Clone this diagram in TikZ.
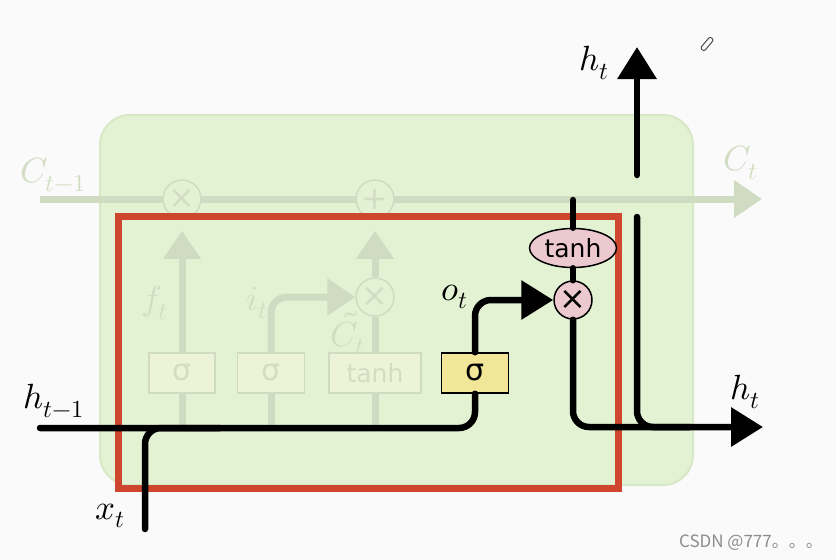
\documentclass[tikz,border=0pt]{standalone}
\usepackage{fontspec}
\usepackage{unicode-math}
\setmathfont{Latin Modern Math}
\newfontfamily\gatefont{DejaVu Sans}
\newfontfamily\cjkfont{Noto Sans CJK SC}
\usepackage{xcolor}
\definecolor{paper}{RGB}{250,250,250}
\definecolor{cellgreen}{RGB}{228,242,212}
\definecolor{celledge}{RGB}{215,232,196}
\definecolor{faded}{RGB}{208,220,194}
\definecolor{fadedfill}{RGB}{237,243,214}
\definecolor{fadedtext}{RGB}{210,221,196}
\definecolor{sigyellow}{RGB}{242,231,152}
\definecolor{oppink}{RGB}{236,200,207}
\definecolor{boxred}{RGB}{207,70,46}
\definecolor{markgray}{RGB}{140,140,140}
\usetikzlibrary{arrows.meta, shapes.geometric}
\tikzset{
  cell/.style={draw=celledge, fill=cellgreen, line width=2pt, rounded corners=30pt},
  gatebox/.style={draw=black, fill=sigyellow, line width=1.5pt,
    minimum width=66pt, minimum height=40pt, inner sep=0pt,
    font=\gatefont\fontsize{30}{30}\selectfont},
  fadebox/.style={draw=faded, fill=fadedfill, line width=1.5pt,
    minimum width=66pt, minimum height=40pt, inner sep=0pt, text=fadedtext,
    font=\gatefont\fontsize{30}{30}\selectfont},
  opcircle/.style={circle, draw=black, fill=oppink, line width=1.5pt,
    minimum size=38pt, inner sep=0pt, font=\gatefont\fontsize{32}{32}\selectfont},
  fadecircle/.style={circle, draw=faded, fill=cellgreen, line width=1.5pt,
    minimum size=38pt, inner sep=0pt, text=fadedtext,
    font=\gatefont\fontsize{32}{32}\selectfont},
  opellipse/.style={ellipse, draw=black, fill=oppink, line width=1.5pt,
    minimum width=87pt, minimum height=39pt, inner sep=0pt,
    font=\gatefont\fontsize{25}{25}\selectfont},
  lbl/.style={inner sep=0pt, font=\fontsize{35}{35}\selectfont},
  fadelbl/.style={lbl, text=fadedtext},
  mainline/.style={line width=6.5pt, line cap=round, rounded corners=16pt},
  mainarrow/.style={mainline, -{Triangle[length=32pt, width=38pt]}},
  fadeline/.style={draw=faded, line width=7pt, rounded corners=16pt},
  fadearrow/.style={fadeline, -{Triangle[length=28pt, width=36pt]}},
  focusbox/.style={draw=boxred, line width=7pt}
}

\begin{document}
\begin{tikzpicture}[x=1pt, y=-1pt]
  \fill[paper] (0,0) rectangle (836,560);
  \useasboundingbox (0,0) rectangle (836,560);

  % cell body
  \draw[cell] (100,115) rectangle (693,485);

  \coordinate (cin) at (40,199);
  \coordinate (cout) at (762,199);
  \coordinate (hin) at (40,428);
  \coordinate (xin) at (145,529);
  \coordinate (xjoin) at (220,428);
  \coordinate (ctap) at (573,200);
  \coordinate (gapbot) at (637,217);
  \coordinate (gaptop) at (637,175);
  \coordinate (htop) at (637,47);
  \coordinate (hjoin) at (690,427);
  \coordinate (hout) at (763,427);

  % faded part of the cell
  \draw[fadearrow] (cin) -- (cout);
  \node[fadecircle] (fmul) at (182,199) {×};
  \node[fadecircle] (fadd) at (375,199) {+};
  \node[fadecircle] (imul) at (375,297) {×};
  \node[fadebox] (fsig) at (182,373) {σ};
  \node[fadebox, minimum width=67pt] (isig) at (271,373) {σ};
  \node[fadebox, minimum width=92pt, font=\gatefont\fontsize{25}{25}\selectfont]
    (ctanh) at (375,373) {tanh};

  \draw[fadeline] (fsig.south) -- (fsig.south |- hin);
  \draw[fadeline] (isig.south) -- (isig.south |- hin);
  \draw[fadeline] (ctanh.south) -- (ctanh.south |- hin);
  \draw[fadearrow, shorten >=12pt] (fsig) -- (fmul);
  \draw[fadearrow] (isig.north) |- (imul.west);
  \draw[fadeline] (ctanh) -- (imul);
  \draw[fadearrow, shorten >=12pt] (imul) -- (fadd);

  \node[fadelbl] (clast) at (53,175) {$C_{t-1}$};
  \node[fadelbl] (cnext) at (741,163) {$C_t$};
  \node[fadelbl] (flbl) at (155,303) {$f_t$};
  \node[fadelbl] (ilbl) at (257,303) {$i_t$};
  \node[fadelbl] (clbl) at (348,333) {$\tilde{C}_t$};

  % highlighted output gate
  \draw[focusbox] (118,216) rectangle (618,488);

  \node[gatebox, minimum width=67pt] (osig) at (475,373) {σ};
  \node[opellipse] (otanh) at (573,248) {tanh};
  \node[opcircle] (omul) at (573,300) {×};

  \draw[mainline] (hin) -| (osig.south);
  \draw[mainline] (xin) |- (xjoin);
  \draw[mainarrow] (osig.north) |- (omul.west);
  \draw[mainline] (ctap) -- (otanh.north);
  \draw[mainline] (otanh.south) -- (omul.north);
  \draw[mainarrow] (omul.south) |- (hout);
  \draw[mainline] (gapbot) |- (hjoin);
  \draw[mainarrow] (gaptop) -- (htop);

  \node[lbl] (htoplbl) at (594,63) {$h_t$};
  \node[lbl] (hrightlbl) at (745,392) {$h_t$};
  \node[lbl] (hprevlbl) at (54,401) {$h_{t-1}$};
  \node[lbl] (xlbl) at (110,516) {$x_t$};
  \node[lbl] (olbl) at (455,297) {$o_t$};

  \node[draw=black!70, line width=1pt, rounded corners=2pt, minimum width=5pt,
    minimum height=15pt, inner sep=0pt, rotate=-40] (pencil) at (707,44) {};
  \node[text=markgray, inner sep=0pt, font=\cjkfont\fontsize{17}{17}\selectfont]
    (mark) at (751,543) {CSDN @777。。。};
\end{tikzpicture}
\end{document}
